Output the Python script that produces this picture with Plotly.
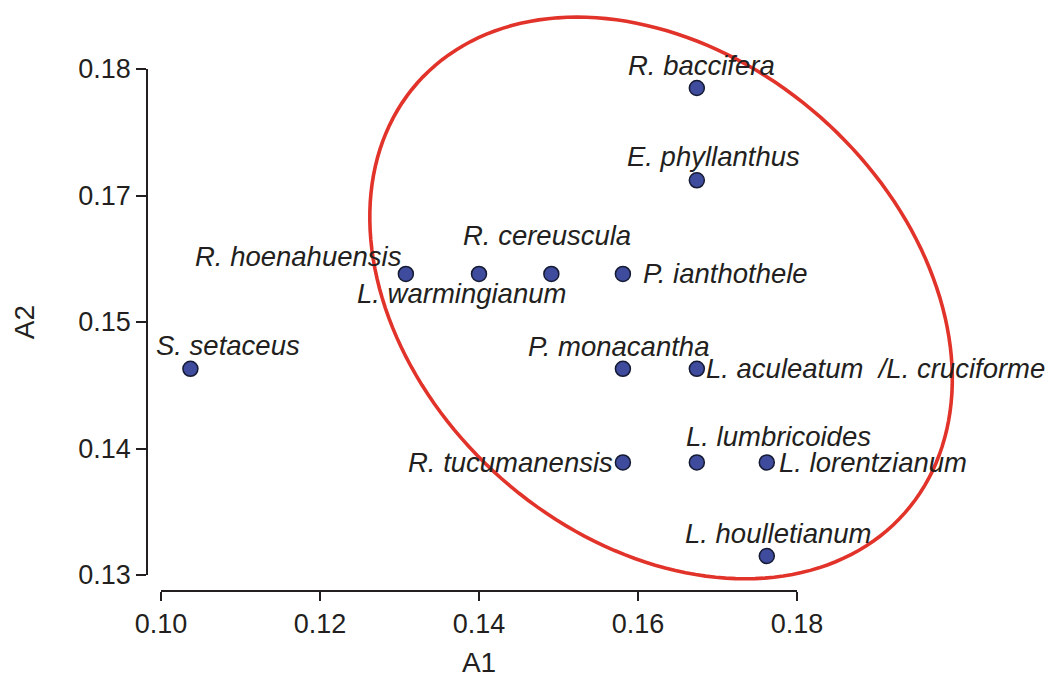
import numpy as np
import plotly.graph_objects as go

# ---------------- data ----------------
species = ["R. baccifera", "E. phyllanthus", "R. hoenahuensis", "L. warmingianum",
           "R. cereuscula", "P. ianthothele", "S. setaceus", "P. monacantha",
           "L. aculeatum\u00a0\u00a0/L. cruciforme", "R. tucumanensis", "L. lumbricoides",
           "L. lorentzianum", "L. houlletianum"]
a1 = [0.1674, 0.1674, 0.1308, 0.1400, 0.1491, 0.1581, 0.1037, 0.1581,
      0.1674, 0.1581, 0.1674, 0.1762, 0.1762]
a2 = [0.1685, 0.1612, 0.1538, 0.1538, 0.1538, 0.1538, 0.1463, 0.1463,
      0.1463, 0.1389, 0.1389, 0.1389, 0.1315]
x_ticks = [0.10, 0.12, 0.14, 0.16, 0.18]
x_ticklabels = ["0.10", "0.12", "0.14", "0.16", "0.18"]
y_ticks = [0.13, 0.14, 0.15, 0.16, 0.17]
y_ticklabels = ["0.13", "0.14", "0.15", "0.17", "0.18"]

# ---------------- layout constants ----------------
PAGE_MARGIN = 8           # default body margin of the html page
W, H = 1056 - 2 * PAGE_MARGIN, 686 - 2 * PAGE_MARGIN
X_RANGE = [0.10, 0.18]
Y_RANGE = [0.13, 0.17]
# pixel positions in the window (converted to figure coords below)
XDOM_WIN = [161, 797]
YDOM_WIN = [575, 69]
X_AXIS_Y_WIN = 591
Y_AXIS_X_WIN = 147

XDOM_PX = [v - PAGE_MARGIN for v in XDOM_WIN]
YDOM_PX = [v - PAGE_MARGIN for v in YDOM_WIN]
X_AXIS_Y_PX = X_AXIS_Y_WIN - PAGE_MARGIN
Y_AXIS_X_PX = Y_AXIS_X_WIN - PAGE_MARGIN

# label placement: (xanchor, xshift, yshift)
label_pos = [("center", 5, 22), ("center", 17, 24), ("right", -4, 17), ("center", -18, -20),
             ("center", -4, 38), ("left", 20, 0), ("center", 38, 23), ("center", -4, 22),
             ("left", 9, 0), ("right", -10, 0), ("center", 82, 26), ("left", 12, 0),
             ("center", 12, 23)]

# ellipse (centre in data units, semi-axes in pixels, rotation in degrees, screen space)
ell_cx, ell_cy = 0.1629, 0.1519
ell_a, ell_b, ell_rot = 325, 241, 41.4

TEXT = "#231f20"
FONT = "Liberation Sans, Arial, sans-serif"

def data_to_px(x, y):
    px = XDOM_PX[0] + (x - X_RANGE[0]) / (X_RANGE[1] - X_RANGE[0]) * (XDOM_PX[1] - XDOM_PX[0])
    py = YDOM_PX[0] + (y - Y_RANGE[0]) / (Y_RANGE[1] - Y_RANGE[0]) * (YDOM_PX[1] - YDOM_PX[0])
    return px, py

fig = go.Figure()
fig.add_trace(go.Scatter(
    x=a1, y=a2, mode="markers",
    marker=dict(size=15, color="#3f4c9e", line=dict(color="#151a33", width=1.5)),
    hoverinfo="text", hovertext=species, showlegend=False))

for name, x, y, (xa, xs, ys) in zip(species, a1, a2, label_pos):
    fig.add_annotation(x=x, y=y, xref="x", yref="y", text=name, showarrow=False,
                       xanchor=xa, yanchor="middle", xshift=xs, yshift=ys,
                       borderpad=0, borderwidth=0,
                       font=dict(family=FONT, size=27.5, color=TEXT, style="italic"))

# ellipse as paper-referenced path
cpx, cpy = data_to_px(ell_cx, ell_cy)
t = np.linspace(0, 2 * np.pi, 181)
th = np.deg2rad(ell_rot)
ex = cpx + ell_a * np.cos(t) * np.cos(th) - ell_b * np.sin(t) * np.sin(th)
ey = cpy + ell_a * np.cos(t) * np.sin(th) + ell_b * np.sin(t) * np.cos(th)
path = "M " + " L ".join(f"{px / W:.5f},{1 - py / H:.5f}" for px, py in zip(ex, ey)) + " Z"
fig.add_shape(type="path", path=path, xref="paper", yref="paper",
              line=dict(color="#e2332b", width=3.6), layer="above")

fig.update_layout(
    width=W, height=H, margin=dict(l=0, r=0, t=0, b=0),
    plot_bgcolor="white", paper_bgcolor="white",
    font=dict(family=FONT, color=TEXT),
    xaxis=dict(domain=[XDOM_PX[0] / W, XDOM_PX[1] / W], range=X_RANGE,
               anchor="free", position=1 - X_AXIS_Y_PX / H,
               showline=True, linecolor=TEXT, linewidth=1.6,
               ticks="outside", ticklen=9, tickwidth=1.6, tickcolor=TEXT,
               tickvals=x_ticks, ticktext=x_ticklabels,
               tickfont=dict(size=27, color=TEXT), showgrid=False, zeroline=False,
               automargin=False,
               title=dict(text="A1", font=dict(size=28, color=TEXT), standoff=21)),
    yaxis=dict(domain=[1 - YDOM_PX[0] / H, 1 - YDOM_PX[1] / H], range=Y_RANGE,
               anchor="free", position=Y_AXIS_X_PX / W,
               showline=True, linecolor=TEXT, linewidth=1.6,
               ticks="outside", ticklen=10, tickwidth=1.6, tickcolor=TEXT,
               tickvals=y_ticks, ticktext=y_ticklabels,
               tickfont=dict(size=27, color=TEXT), showgrid=False, zeroline=False,
               automargin=False,
               title=dict(text="A2", font=dict(size=28, color=TEXT), standoff=34)),
)

fig.write_html("out.html")
